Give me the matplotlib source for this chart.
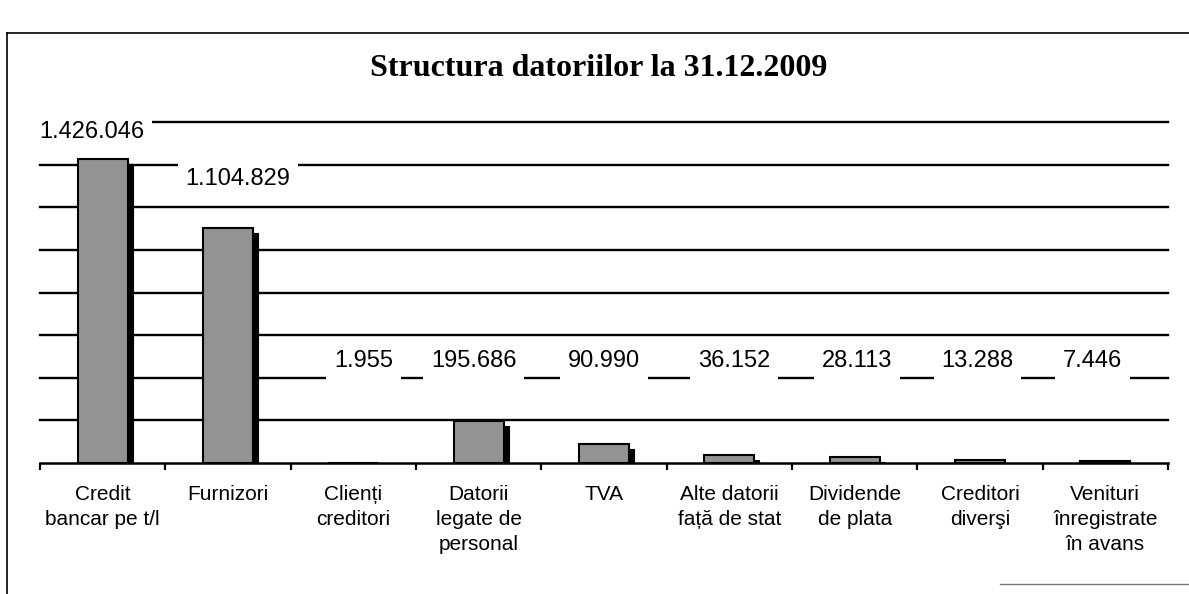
import matplotlib
matplotlib.use("Agg")
import matplotlib.pyplot as plt
from matplotlib.lines import Line2D
import matplotlib.transforms as mtransforms

# ---- data ----
categories = ["Credit\nbancar pe t/l", "Furnizori", "Clienți\ncreditori",
              "Datorii\nlegate de\npersonal", "TVA", "Alte datorii\nfață de stat",
              "Dividende\nde plata", "Creditori\ndiverşi",
              "Venituri\nînregistrate\nîn avans"]
values = [1426046, 1104829, 1955, 195686, 90990, 36152, 28113, 13288, 7446]
value_labels = ["1.426.046", "1.104.829", "1.955", "195.686", "90.990",
                "36.152", "28.113", "13.288", "7.446"]
title = "Structura datoriilor la 31.12.2009"

# ---- layout (label placement, not data) ----
label_base = [1525000, 1304000] + [450000] * 7
label_dx = [-0.09, 0.08, 0.08, -0.04, 0.0, 0.04, 0.02, -0.02, -0.1]
label_size = [17] * 9

fig = plt.figure(figsize=(11.89, 5.94), dpi=100)
ax = fig.add_axes([40/1189, 1-463/594, (1168-40)/1189, (463-122)/594])

ymax = 1600000
ax.set_ylim(0, ymax)
ax.set_xlim(-0.5, len(categories) - 0.5)

# gridlines
for g in range(200000, ymax + 1, 200000):
    ax.axhline(g, color="black", lw=1.7, zorder=1, clip_on=False)

x = list(range(len(categories)))
# shadows (offset in pixels)
shadow_tr = ax.transData + mtransforms.ScaledTranslation(5/100, -5/100, fig.dpi_scale_trans)
for xi, v in zip(x, values):
    r = plt.Rectangle((xi - 0.2, 0), 0.4, v, facecolor="black", edgecolor="black",
                      lw=0.8, transform=shadow_tr, zorder=2, clip_on=True)
    ax.add_patch(r)
ax.bar(x, values, width=0.4, color="#939393", edgecolor="black", lw=1.5, zorder=3)

# value labels with white boxes
for xi, lab, yb, dx, fs in zip(x, value_labels, label_base, label_dx, label_size):
    ax.text(xi + dx, yb, lab, ha="center", va="baseline", fontsize=fs,
            family="Liberation Sans", zorder=4,
            bbox=dict(boxstyle="square,pad=0.33", facecolor="white", edgecolor="none"))

# axes styling
for s in ["top", "right", "left"]:
    ax.spines[s].set_visible(False)
ax.spines["bottom"].set_linewidth(1.8)
ax.spines["bottom"].set_zorder(5)
ax.set_yticks([])
ax.set_xticks(x)
ax.set_xticklabels(categories, fontsize=15, family="Liberation Sans", linespacing=1.4)
ax.tick_params(axis="x", which="major", length=0, pad=16)
ax.set_xticks([i - 0.5 for i in range(len(categories) + 1)], minor=True)
ax.tick_params(axis="x", which="minor", length=5, width=1.6, direction="out", color="black")

# title
fig.text(599/1189, 1 - 76/594, title, ha="center", va="baseline", fontsize=23,
         fontweight="bold", family="Liberation Serif")

# outer frame lines (scan border)
fig.add_artist(Line2D([7/1189, 7/1189], [0, 1 - 33/594], color="black", lw=1.2,
                      transform=fig.transFigure))
fig.add_artist(Line2D([7/1189, 1], [1 - 33/594, 1 - 33/594], color="black", lw=1.2,
                      transform=fig.transFigure))
fig.add_artist(Line2D([1000/1189, 1], [1 - 584/594, 1 - 584/594], color="#777777", lw=1.0,
                      transform=fig.transFigure))

fig.savefig("out.png", dpi=100, facecolor="white")
